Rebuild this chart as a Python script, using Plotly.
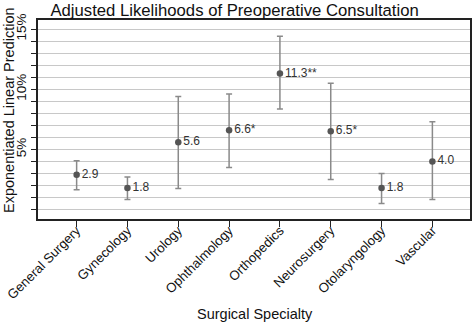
import plotly.graph_objects as go

categories = ["General Surgery", "Gynecology", "Urology", "Ophthalmology",
              "Orthopedics", "Neurosurgery", "Otolaryngology", "Vascular"]
estimates = [2.9, 1.8, 5.6, 6.6, 11.3, 6.5, 1.8, 4.0]
upper_ci = [4.05, 2.7, 9.4, 9.6, 14.4, 10.5, 3.0, 7.3]
lower_ci = [1.65, 0.85, 1.75, 3.5, 8.35, 2.5, 0.5, 0.85]
point_labels = ["2.9", "1.8", "5.6", "6.6*", "11.3**", "6.5*", "1.8", "4.0"]
y_tick_vals = list(range(0, 16))
y_tick_text = ["" if (v % 5 or v == 0) else f"{v}%" for v in y_tick_vals]

x_idx = list(range(len(categories)))
err_plus = [u - e for u, e in zip(upper_ci, estimates)]
err_minus = [e - l for e, l in zip(estimates, lower_ci)]

FONT = "Liberation Sans, Arial, sans-serif"

fig = go.Figure()
fig.add_trace(go.Scatter(
    x=x_idx, y=estimates,
    mode="markers+text",
    text=point_labels,
    textposition="middle right",
    textfont=dict(size=12, color="#333333", family=FONT),
    marker=dict(color="#555555", size=6.5),
    error_y=dict(type="data", symmetric=False, array=err_plus, arrayminus=err_minus,
                 color="#8a8a8a", thickness=1.5, width=3),
    showlegend=False, cliponaxis=False, hoverinfo="skip",
))

fig.update_layout(
    width=472, height=324,
    margin=dict(l=38, r=2, t=20, b=105),
    paper_bgcolor="white", plot_bgcolor="white",
    font=dict(family=FONT, color="#111111", size=13.5),
    title=dict(text="Adjusted Likelihoods of Preoperative Consultation",
               x=0.497, xanchor="center", y=0.97, yanchor="middle",
               font=dict(size=16.7, color="#111111")),
    xaxis=dict(
        range=[-0.76, 7.74],
        tickvals=x_idx, ticktext=categories, tickangle=-45,
        ticks="outside", ticklen=6, tickcolor="#222222",
        showgrid=False, zeroline=False,
        showline=True, linecolor="#222222", linewidth=1.5, mirror=True,
        tickfont=dict(size=13.2), automargin=False, ticklabelstandoff=-9,
    ),
    yaxis=dict(
        range=[-0.78, 15.75],
        tickvals=y_tick_vals, ticktext=y_tick_text, tickangle=-90,
        ticks="outside", ticklen=5, tickcolor="#222222",
        showgrid=True, gridcolor="#c8c8c8", gridwidth=1.2, zeroline=False,
        showline=True, linecolor="#222222", linewidth=1.5, mirror=True,
        tickfont=dict(size=13.5), automargin=False,
    ),
    annotations=[
        dict(text="Surgical Specialty", xref="paper", yref="paper",
             x=(255 - 38) / 432, y=-(314 - 219) / 199, xanchor="center", yanchor="middle",
             showarrow=False, font=dict(size=14.5, color="#111111")),
        dict(text="Exponentiated Linear Prediction", xref="paper", yref="paper",
             x=-(38 - 9) / 432, y=(219 - 110) / 199, xanchor="center", yanchor="middle",
             textangle=-90, showarrow=False, font=dict(size=14.5, color="#111111")),
    ],
)

fig.write_html("out.html", config={"displayModeBar": False},
               post_script="document.body.style.margin='0';document.body.style.padding='0';")
